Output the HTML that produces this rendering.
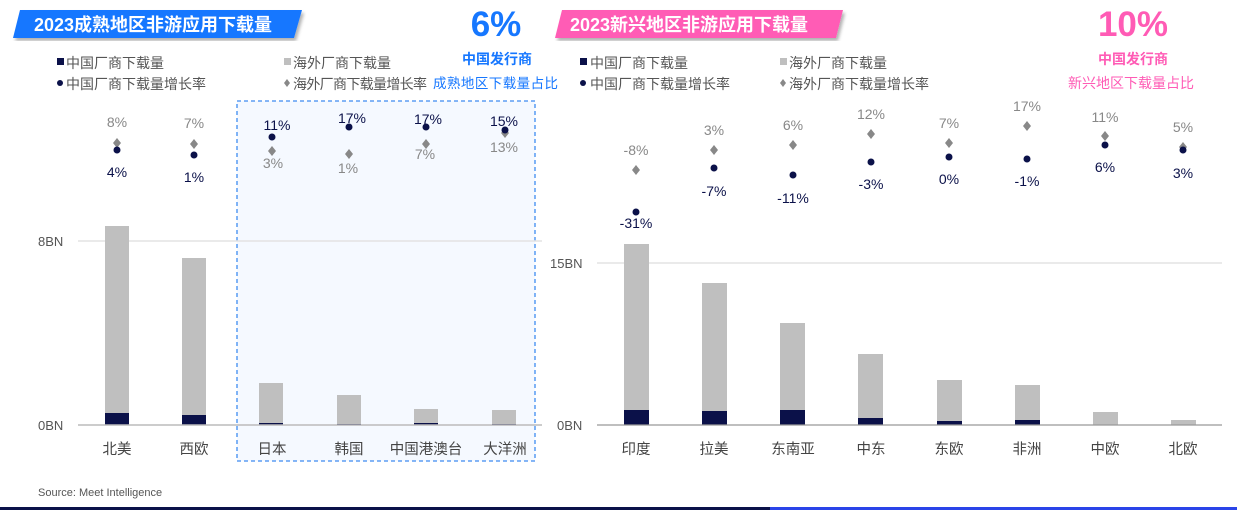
<!DOCTYPE html>
<html><head><meta charset="utf-8"><style>
body{margin:0;width:1237px;height:510px;background:#fff;overflow:hidden;font-family:"Liberation Sans","Noto Sans CJK SC",sans-serif}
svg text{font-family:"Liberation Sans","Noto Sans CJK SC",sans-serif}
</style></head><body>
<svg width="1237" height="510" xmlns="http://www.w3.org/2000/svg">
<defs><filter id="sh"><feDropShadow dx="2" dy="3" stdDeviation="1.5" flood-color="#000" flood-opacity="0.3"/></filter></defs>
<polygon points="20,10 302,10 294,38 13,38" fill="#1677ff" filter="url(#sh)"/>
<text x="34" y="31" font-size="18" font-weight="bold" fill="#fff">2023成熟地区非游应用下载量</text>
<polygon points="562,10 843,10 836,38 555,38" fill="#ff5bb5" filter="url(#sh)"/>
<text x="570" y="31" font-size="18" font-weight="bold" fill="#fff">2023新兴地区非游应用下载量</text>
<text x="496" y="36" font-size="35" font-weight="bold" fill="#1677ff" text-anchor="middle">6%</text>
<text x="497" y="64" font-size="14" font-weight="bold" fill="#1677ff" text-anchor="middle">中国发行商</text>
<text x="433" y="88" font-size="13.5" fill="#1677ff" textLength="125">成熟地区下载量占比</text>
<text x="1133" y="36" font-size="35" font-weight="bold" fill="#ff5bb5" text-anchor="middle">10%</text>
<text x="1133" y="64" font-size="14" font-weight="bold" fill="#ff5bb5" text-anchor="middle">中国发行商</text>
<text x="1131" y="88" font-size="14" fill="#ff5bb5" text-anchor="middle">新兴地区下载量占比</text>
<g font-size="14" fill="#555">
<rect x="57" y="58" width="7" height="7" fill="#0b1149"/><text x="66" y="68">中国厂商下载量</text>
<circle cx="60" cy="83" r="3" fill="#0b1149"/><text x="66" y="89">中国厂商下载量增长率</text>
<rect x="284" y="58" width="7" height="7" fill="#bfbfbf"/><text x="293" y="68">海外厂商下载量</text>
<polygon points="287,79 290,83 287,87 284,83" fill="#888"/><text x="293" y="89" textLength="134">海外厂商下载量增长率</text>
<rect x="580" y="58" width="7" height="7" fill="#0b1149"/><text x="590" y="68">中国厂商下载量</text>
<circle cx="583" cy="83" r="3" fill="#0b1149"/><text x="590" y="89">中国厂商下载量增长率</text>
<rect x="780" y="58" width="7" height="7" fill="#bfbfbf"/><text x="789" y="68">海外厂商下载量</text>
<polygon points="783,79 786,83 783,87 780,83" fill="#888"/><text x="789" y="89">海外厂商下载量增长率</text>
</g>
<rect x="237" y="101" width="298" height="360" fill="#f5f9ff" stroke="#3d8bf0" stroke-width="1.3" stroke-dasharray="4,3"/>
<line x1="78" y1="241" x2="542" y2="241" stroke="#e3e3e3" stroke-width="1.5"/>
<text x="38" y="246" font-size="13" fill="#555">8BN</text>
<text x="38" y="430" font-size="13" fill="#555">0BN</text>
<g fill="#bfbfbf">
<rect x="105" y="226" width="24" height="199"/><rect x="182" y="258" width="24" height="167"/>
<rect x="259" y="383" width="24" height="42"/><rect x="337" y="395" width="24" height="30"/>
<rect x="414" y="409" width="24" height="16"/><rect x="492" y="410" width="24" height="15"/>
</g>
<g fill="#0b1149">
<rect x="105" y="413" width="24" height="12"/><rect x="182" y="415" width="24" height="10"/>
<rect x="259" y="423" width="24" height="2"/><rect x="337" y="424" width="24" height="1"/>
<rect x="414" y="423" width="24" height="2"/><rect x="492" y="424" width="24" height="1"/>
</g>
<line x1="78" y1="425" x2="542" y2="425" stroke="#bbb" stroke-width="1.5"/>
<g font-size="14.5" fill="#444" text-anchor="middle">
<text x="117" y="454">北美</text><text x="194" y="454">西欧</text><text x="272" y="454">日本</text>
<text x="349" y="454">韩国</text><text x="426" y="454">中国港澳台</text><text x="505" y="454">大洋洲</text>
</g>
<g fill="#888">
<polygon points="117,138 121,143 117,148 113,143"/><polygon points="194,139 198,144 194,149 190,144"/>
<polygon points="272,146 276,151 272,156 268,151"/><polygon points="349,149 353,154 349,159 345,154"/>
<polygon points="426,139 430,144 426,149 422,144"/><polygon points="505,128 509,133 505,138 501,133"/>
</g>
<g fill="#0b1149">
<circle cx="117" cy="150" r="3.5"/><circle cx="194" cy="155" r="3.5"/><circle cx="272" cy="137" r="3.5"/>
<circle cx="349" cy="127" r="3.5"/><circle cx="426" cy="127" r="3.5"/><circle cx="505" cy="130" r="3.5"/>
</g>
<g font-size="14" text-anchor="middle">
<text x="117" y="127" fill="#888">8%</text><text x="117" y="177" fill="#0b1149">4%</text>
<text x="194" y="128" fill="#888">7%</text><text x="194" y="182" fill="#0b1149">1%</text>
<text x="277" y="130" fill="#0b1149">11%</text><text x="273" y="168" fill="#888">3%</text>
<text x="352" y="123" fill="#0b1149">17%</text><text x="348" y="173" fill="#888">1%</text>
<text x="428" y="124" fill="#0b1149">17%</text><text x="425" y="159" fill="#888">7%</text>
<text x="504" y="126" fill="#0b1149">15%</text><text x="504" y="152" fill="#888">13%</text>
</g>
<line x1="597" y1="263" x2="1222" y2="263" stroke="#e3e3e3" stroke-width="1.5"/>
<text x="550" y="268" font-size="13" fill="#555">15BN</text>
<text x="557" y="430" font-size="13" fill="#555">0BN</text>
<g fill="#bfbfbf">
<rect x="624" y="244" width="25" height="181"/><rect x="702" y="283" width="25" height="142"/>
<rect x="780" y="323" width="25" height="102"/><rect x="858" y="354" width="25" height="71"/>
<rect x="937" y="380" width="25" height="45"/><rect x="1015" y="385" width="25" height="40"/>
<rect x="1093" y="412" width="25" height="13"/><rect x="1171" y="420" width="25" height="5"/>
</g>
<g fill="#0b1149">
<rect x="624" y="410" width="25" height="15"/><rect x="702" y="411" width="25" height="14"/>
<rect x="780" y="410" width="25" height="15"/><rect x="858" y="418" width="25" height="7"/>
<rect x="937" y="421" width="25" height="4"/><rect x="1015" y="420" width="25" height="5"/>
</g>
<line x1="597" y1="425" x2="1222" y2="425" stroke="#999" stroke-width="1.3"/>
<g font-size="14.5" fill="#444" text-anchor="middle">
<text x="636" y="454">印度</text><text x="714" y="454">拉美</text><text x="793" y="454">东南亚</text>
<text x="871" y="454">中东</text><text x="949" y="454">东欧</text><text x="1027" y="454">非洲</text>
<text x="1105" y="454">中欧</text><text x="1183" y="454">北欧</text>
</g>
<g fill="#888">
<polygon points="636,165 640,170 636,175 632,170"/><polygon points="714,145 718,150 714,155 710,150"/>
<polygon points="793,140 797,145 793,150 789,145"/><polygon points="871,129 875,134 871,139 867,134"/>
<polygon points="949,138 953,143 949,148 945,143"/><polygon points="1027,121 1031,126 1027,131 1023,126"/>
<polygon points="1105,131 1109,136 1105,141 1101,136"/><polygon points="1183,142 1187,147 1183,152 1179,147"/>
</g>
<g fill="#0b1149">
<circle cx="636" cy="212" r="3.5"/><circle cx="714" cy="168" r="3.5"/><circle cx="793" cy="175" r="3.5"/>
<circle cx="871" cy="162" r="3.5"/><circle cx="949" cy="157" r="3.5"/><circle cx="1027" cy="159" r="3.5"/>
<circle cx="1105" cy="145" r="3.5"/><circle cx="1183" cy="150" r="3.5"/>
</g>
<g font-size="14" text-anchor="middle">
<text x="636" y="155" fill="#888">-8%</text><text x="636" y="228" fill="#0b1149">-31%</text>
<text x="714" y="135" fill="#888">3%</text><text x="714" y="196" fill="#0b1149">-7%</text>
<text x="793" y="130" fill="#888">6%</text><text x="793" y="203" fill="#0b1149">-11%</text>
<text x="871" y="119" fill="#888">12%</text><text x="871" y="189" fill="#0b1149">-3%</text>
<text x="949" y="128" fill="#888">7%</text><text x="949" y="184" fill="#0b1149">0%</text>
<text x="1027" y="111" fill="#888">17%</text><text x="1027" y="186" fill="#0b1149">-1%</text>
<text x="1105" y="122" fill="#888">11%</text><text x="1105" y="172" fill="#0b1149">6%</text>
<text x="1183" y="132" fill="#888">5%</text><text x="1183" y="178" fill="#0b1149">3%</text>
</g>
<text x="38" y="496" font-size="11" fill="#555">Source: Meet Intelligence</text>
<rect x="0" y="507" width="770" height="3" fill="#0b1149"/>
<rect x="770" y="507" width="467" height="3" fill="#2a44e8"/>
</svg>
</body></html>
